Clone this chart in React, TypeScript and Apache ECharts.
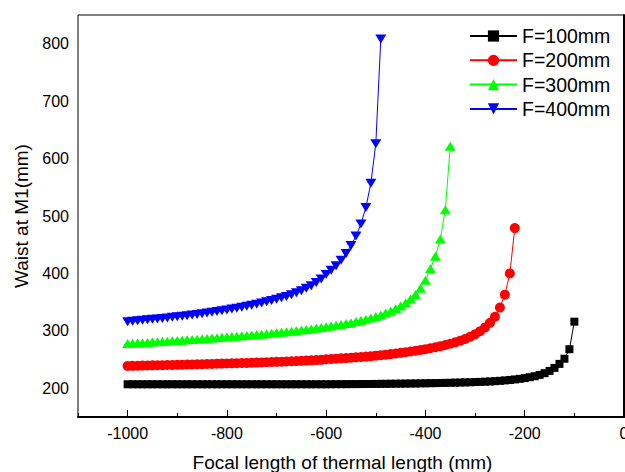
import React, { useEffect, useRef } from "react";
import * as echarts from "echarts";

// Shared focal-length sampling grid (mm)
const xValues = [
  -1000, -990, -980, -970, -960, -950, -940, -930, -920, -910,
  -900, -890, -880, -870, -860, -850, -840, -830, -820, -810,
  -800, -790, -780, -770, -760, -750, -740, -730, -720, -710,
  -700, -690, -680, -670, -660, -650, -640, -630, -620, -610,
  -600, -590, -580, -570, -560, -550, -540, -530, -520, -510,
  -500, -490, -480, -470, -460, -450, -440, -430, -420, -410,
  -400, -390, -380, -370, -360, -350, -340, -330, -320, -310,
  -300, -290, -280, -270, -260, -250, -240, -230, -220, -210,
  -200, -190, -180, -170, -160, -150, -140, -130, -120, -110,
  -100,
];

const f100 = [
  207, 207, 207, 207, 207, 207, 207, 207, 207, 207,
  207, 207, 207, 207, 207, 207, 207, 207, 207, 207,
  207, 207, 207, 207, 207, 207, 207, 207, 207, 207,
  207, 207, 207, 207, 207, 207, 207, 207, 207, 207,
  207, 207.1, 207.1, 207.2, 207.2, 207.3, 207.3, 207.4, 207.5, 207.5,
  207.6, 207.7, 207.8, 207.9, 208.0, 208.1, 208.2, 208.3, 208.4, 208.6,
  208.7, 208.9, 209.0, 209.2, 209.4, 209.6, 209.8, 210.0, 210.3, 210.5,
  210.8, 211.1, 211.5, 211.9, 212.4, 213.0, 213.7, 214.5, 215.4, 216.5,
  217.8, 219.3, 221.0, 223.3, 226.3, 230.3, 235.5, 242.5, 251.5, 268.0,
  316.0,
];

const f200 = [
  238.9, 239.1, 239.3, 239.5, 239.7, 239.9, 240.1, 240.3, 240.5, 240.7,
  240.9, 241.1, 241.4, 241.6, 241.8, 242.0, 242.3, 242.5, 242.7, 243.0,
  243.2, 243.5, 243.7, 244.0, 244.2, 244.5, 244.8, 245.1, 245.4, 245.7,
  246.0, 246.4, 246.7, 247.1, 247.4, 247.8, 248.2, 248.7, 249.1, 249.6,
  250.5, 251.0, 251.5, 252.1, 252.6, 253.2, 253.9, 254.5, 255.2, 256.0,
  256.8, 257.6, 258.5, 259.5, 260.5, 261.7, 262.8, 264.0, 265.3, 266.7,
  268.1, 269.7, 271.4, 273.3, 275.3, 277.5, 280.0, 282.8, 286.0, 289.7,
  294.0, 299.3, 306.0, 314.0, 324.5, 340.5, 363.0, 400.0, 479.0,
];

const f300 = [
  277.9, 278.4, 278.9, 279.4, 279.9, 280.5, 281.0, 281.5, 282.1, 282.6,
  283.2, 283.8, 284.4, 284.9, 285.5, 286.1, 286.8, 287.4, 288.0, 288.7,
  289.3, 290.0, 290.7, 291.4, 292.1, 292.8, 293.5, 294.3, 295.1, 295.9,
  296.7, 297.6, 298.5, 299.4, 300.4, 301.3, 302.4, 303.4, 304.6, 305.7,
  307.0, 308.3, 309.7, 311.1, 312.7, 314.3, 316.1, 318.1, 320.2, 322.5,
  325.0, 327.8, 330.9, 334.4, 338.5, 343.2, 348.7, 355.3, 363.5, 374.0,
  388.0, 408.0, 430.0, 460.0, 511.0, 621.6,
];

const f400 = [
  316.0, 316.8, 317.6, 318.4, 319.2, 320.0, 320.8, 321.7, 322.6, 323.5,
  324.5, 325.5, 326.5, 327.6, 328.7, 329.8, 331.0, 332.3, 333.6, 335.0,
  336.4, 337.9, 339.4, 341.0, 342.7, 344.5, 346.4, 348.4, 350.5, 352.7,
  355.0, 357.5, 360.0, 363.0, 366.3, 370.0, 374.0, 378.5, 384.0, 390.5,
  398.0, 405.5, 413.5, 423.0, 434.5, 448.5, 465.0, 486.0, 515.0, 557.0,
  626.0, 808.0,
];

const seriesNames = ["F=100mm", "F=200mm", "F=300mm", "F=400mm"];
const xTickValues = [-1000, -800, -600, -400, -200, 0];
const yTickValues = [200, 300, 400, 500, 600, 700, 800];

const FONT = "'Liberation Sans', Arial, Helvetica, sans-serif";

function pairs(ys: number[]) {
  return ys.map((y, i) => [xValues[i], y]);
}

export default function App() {
  const ref = useRef<HTMLDivElement>(null);

  useEffect(() => {
    if (!ref.current) return;
    const chart = echarts.init(ref.current, undefined, { renderer: "svg" });

    const lineCommon = {
      type: "line",
      xAxisIndex: 0,
      yAxisIndex: 0,
      showSymbol: true,
      showAllSymbol: true,
    };

    chart.setOption({
      animation: false,
      backgroundColor: "#ffffff",
      textStyle: { fontFamily: FONT },
      grid: {
        left: 78,
        right: 1,
        top: 15,
        bottom: 55,
        show: true,
        borderColor: "#000",
        borderWidth: 1,
        backgroundColor: "transparent",
        containLabel: false,
        outerBoundsMode: "none",
      },
      legend: {
        orient: "vertical",
        left: 469,
        top: 26,
        padding: 0,
        itemWidth: 47,
        itemHeight: 14,
        itemGap: 4.3,
        selectedMode: false,
        textStyle: { fontSize: 19.5, color: "#000", fontFamily: FONT },
        data: seriesNames,
      },
      xAxis: [
        {
          type: "value",
          min: -1100,
          max: 0,
          interval: 100,
          position: "bottom",
          axisLine: { show: true, lineStyle: { color: "#000", width: 2 } },
          axisTick: { show: true, inside: true, length: 4, lineStyle: { color: "#000", width: 1 } },
          axisLabel: { show: false },
          splitLine: { show: false },
        },
        {
          type: "value",
          min: -1100,
          max: 0,
          position: "bottom",
          axisLine: { show: false },
          axisTick: {
            show: true,
            inside: true,
            length: 7,
            customValues: xTickValues,
            lineStyle: { color: "#000", width: 1 },
          },
          axisLabel: {
            show: true,
            customValues: xTickValues,
            formatter: (v: number) => String(v),
            margin: 8,
            fontSize: 16,
            color: "#000",
            fontFamily: FONT,
          },
          splitLine: { show: false },
          name: "Focal length of thermal length (mm)",
          nameLocation: "middle",
          nameGap: 36,
          nameTextStyle: {
            fontSize: 19,
            color: "#000",
            fontFamily: FONT,
            padding: [0, 17, 0, 0],
          },
        },
      ],
      yAxis: [
        {
          type: "value",
          min: 150,
          max: 850,
          interval: 50,
          position: "left",
          axisLine: { show: true, lineStyle: { color: "#000", width: 2 } },
          axisTick: { show: true, inside: true, length: 4, lineStyle: { color: "#000", width: 1 } },
          axisLabel: { show: false },
          splitLine: { show: false },
        },
        {
          type: "value",
          min: 150,
          max: 850,
          position: "left",
          axisLine: { show: false },
          axisTick: {
            show: true,
            inside: true,
            length: 7,
            customValues: yTickValues,
            lineStyle: { color: "#000", width: 1 },
          },
          axisLabel: {
            show: true,
            customValues: yTickValues,
            formatter: (v: number) => String(v),
            margin: 9,
            fontSize: 16,
            color: "#000",
            fontFamily: FONT,
          },
          splitLine: { show: false },
          name: "Waist at M1(mm)",
          nameLocation: "middle",
          nameGap: 46,
          nameRotate: 90,
          nameTextStyle: { fontSize: 19, color: "#000", fontFamily: FONT },
        },
      ],
      series: [
        {
          ...lineCommon,
          name: seriesNames[0],
          data: pairs(f100),
          symbol: "rect",
          symbolSize: 8,
          itemStyle: { color: "#000000" },
          lineStyle: { color: "#000000", width: 1 },
        },
        {
          ...lineCommon,
          name: seriesNames[1],
          data: pairs(f200),
          symbol: "circle",
          symbolSize: 10,
          itemStyle: { color: "#ff0000" },
          lineStyle: { color: "#ff0000", width: 1 },
        },
        {
          ...lineCommon,
          name: seriesNames[2],
          data: pairs(f300),
          symbol: "triangle",
          symbolSize: [11, 9],
          itemStyle: { color: "#00ff00" },
          lineStyle: { color: "#00ff00", width: 1 },
        },
        {
          ...lineCommon,
          name: seriesNames[3],
          data: pairs(f400),
          symbol: "triangle",
          symbolRotate: 180,
          symbolSize: [11, 9],
          itemStyle: { color: "#0000ff" },
          lineStyle: { color: "#0000ff", width: 1 },
        },
      ],
    });

    return () => {
      chart.dispose();
    };
  }, []);

  return (
    <div
      ref={ref}
      style={{ position: "fixed", left: 0, top: 0, width: 625, height: 472 }}
    />
  );
}
